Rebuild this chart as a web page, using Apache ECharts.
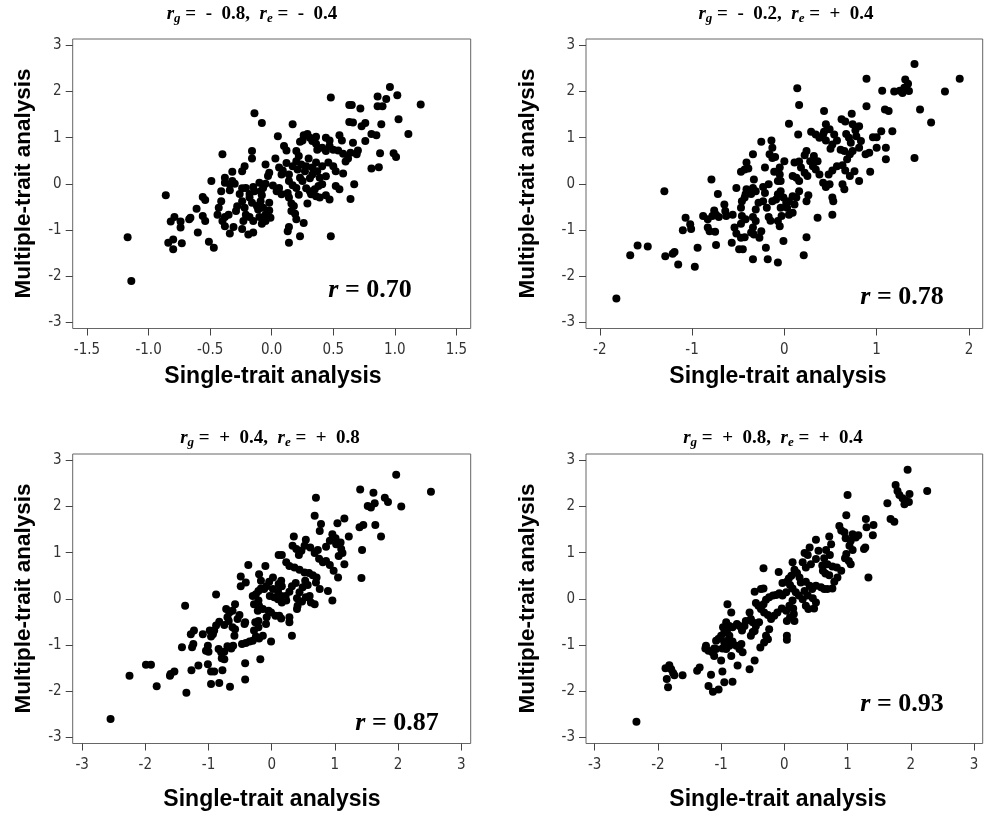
<!DOCTYPE html>
<html>
<head>
<meta charset="utf-8">
<script src="https://cdn.jsdelivr.net/npm/echarts@6/dist/echarts.min.js"></script>
<style>
html,body{margin:0;padding:0;background:#fff;}
#chart{width:985px;height:813px;}
</style>
</head>
<body>
<div id="chart"></div>
<script>
// ---- data (Single-trait analysis, Multiple-trait analysis) ----
const panel1Points = [[0.96,2.10],[0.48,1.87],[0.86,1.89],[1.02,1.92],[0.93,1.84],[1.21,1.72],[0.63,1.71],[0.65,1.71],[0.72,1.63],[0.86,1.68],[0.90,1.68],[-0.14,1.53],[-0.08,1.32],[0.17,1.29],[0.63,1.34],[0.66,1.33],[0.73,1.25],[0.76,1.32],[0.89,1.29],[1.03,1.40],[0.81,1.08],[0.85,1.05],[1.11,1.08],[0.05,1.03],[0.26,1.05],[0.29,1.08],[0.31,1.00],[0.23,0.91],[0.25,0.94],[0.44,1.00],[0.47,0.94],[0.55,1.05],[0.57,0.94],[0.66,0.89],[0.76,0.93],[0.10,0.82],[0.12,0.72],[0.20,0.71],[0.33,0.93],[0.36,0.87],[0.37,0.74],[0.41,0.78],[0.44,0.71],[0.47,0.82],[0.50,0.74],[0.54,0.72],[0.58,0.65],[0.62,0.55],[0.70,0.72],[0.64,0.67],[0.69,0.64],[0.88,0.66],[0.99,0.66],[1.01,0.58],[0.81,0.33],[0.87,0.36],[-0.16,0.71],[-0.16,0.55],[-0.40,0.64],[-0.22,0.38],[-0.24,0.27],[-0.05,0.42],[-0.03,0.17],[-0.02,0.24],[0.03,0.55],[0.09,0.29],[0.08,0.20],[0.14,0.20],[0.17,0.38],[0.20,0.49],[0.21,0.31],[0.24,0.42],[0.27,0.27],[0.28,0.38],[0.33,0.35],[0.36,0.46],[0.37,0.27],[0.41,0.38],[0.33,0.20],[0.39,0.13],[0.46,0.46],[0.50,0.38],[0.52,0.27],[0.58,0.22],[0.14,0.06],[0.17,-0.03],[0.20,-0.09],[0.23,0.13],[0.25,0.06],[0.28,-0.10],[0.31,-0.16],[0.35,-0.12],[0.38,-0.05],[0.41,-0.01],[0.32,-0.23],[0.36,-0.27],[0.39,-0.30],[0.44,-0.25],[0.47,-0.34],[0.52,-0.05],[0.55,-0.12],[0.67,-0.01],[0.64,-0.33],[0.13,-0.20],[0.14,-0.30],[0.16,-0.43],[0.18,-0.48],[0.16,-0.59],[0.19,-0.65],[0.20,-0.77],[0.26,-0.85],[0.14,-0.94],[0.13,-1.03],[0.14,-1.28],[0.23,-1.14],[0.48,-1.14],[0.29,-0.43],[0.06,-0.09],[0.04,-0.16],[0.08,-0.23],[0.01,-0.04],[-0.05,0.00],[-0.07,-0.09],[-0.10,0.02],[-0.09,-0.16],[-0.15,-0.07],[-0.14,-0.16],[-0.21,-0.09],[-0.18,-0.22],[-0.24,-0.10],[-0.32,0.26],[-0.32,0.06],[-0.34,-0.01],[-0.30,0.00],[-0.34,-0.14],[-0.38,0.13],[-0.38,0.02],[-0.41,-0.16],[-0.41,-0.38],[-0.49,0.06],[-0.56,-0.29],[-0.54,-0.35],[-0.43,-0.52],[-0.44,-0.67],[-0.40,-0.81],[-0.38,-0.92],[-0.34,-1.08],[-0.38,-0.72],[-0.35,-0.67],[-0.29,-0.59],[-0.31,-0.94],[-0.24,-0.98],[-0.19,-1.10],[-0.15,-1.06],[-0.24,-0.38],[-0.22,-0.52],[-0.21,-0.67],[-0.23,-0.81],[-0.18,-0.72],[-0.15,-0.81],[-0.28,-0.49],[-0.18,-0.30],[-0.16,-0.41],[-0.12,-0.48],[-0.11,-0.56],[-0.09,-0.38],[-0.07,-0.52],[-0.05,-0.67],[-0.02,-0.41],[-0.02,-0.58],[-0.08,-0.87],[-0.05,-0.81],[-0.01,-0.74],[-0.10,-0.72],[-0.61,-0.54],[-0.56,-0.70],[-0.54,-0.81],[-0.66,-0.74],[-0.67,-0.77],[-0.79,-0.72],[-0.82,-0.82],[-0.74,-0.82],[-0.74,-0.95],[-0.60,-1.06],[-0.86,-0.25],[-0.51,-1.26],[-0.47,-1.39],[-0.84,-1.28],[-0.80,-1.21],[-0.80,-1.42],[-0.73,-1.29],[-1.17,-1.16],[-1.14,-2.11],[0.22,0.60],[0.30,0.55],[0.12,0.45],[0.06,0.35],[0.31,0.12],[0.44,0.16],[0.60,0.48],[0.36,1.02],[-0.08,-0.25],[-0.26,-0.22],[0.22,-0.24]];

const panel2Points = [[1.41,2.60],[1.90,2.28],[0.89,2.28],[1.74,2.00],[1.06,2.02],[1.19,2.00],[1.25,2.02],[1.28,1.97],[1.32,2.05],[1.35,2.01],[1.30,2.08],[1.34,2.17],[1.31,2.26],[0.14,2.07],[0.16,1.71],[0.89,1.68],[0.43,1.58],[0.73,1.52],[1.09,1.61],[1.13,1.58],[1.47,1.61],[1.59,1.33],[0.05,1.30],[0.62,1.40],[0.66,1.35],[0.74,1.29],[0.77,1.16],[0.81,1.25],[0.45,1.29],[0.49,1.18],[0.43,1.13],[0.29,1.13],[0.34,1.07],[0.42,1.07],[0.15,1.07],[0.38,1.00],[0.45,0.94],[0.54,1.07],[0.57,0.94],[0.52,0.85],[0.50,0.76],[0.67,1.08],[0.70,1.00],[0.72,0.89],[0.78,1.03],[0.83,0.93],[0.96,1.01],[1.00,1.01],[1.05,1.14],[1.17,1.14],[1.00,0.78],[1.10,0.78],[1.10,0.53],[1.41,0.56],[0.88,0.64],[0.92,0.67],[0.61,0.74],[0.65,0.71],[0.71,0.64],[0.68,0.53],[0.74,0.71],[0.81,0.78],[0.93,0.26],[0.81,0.06],[0.76,0.27],[0.71,0.17],[0.66,0.29],[0.63,0.40],[0.57,0.38],[0.52,0.29],[0.48,0.20],[0.63,-0.01],[0.65,-0.12],[0.52,-0.30],[0.53,-0.38],[0.52,-0.67],[0.36,-0.74],[0.24,-0.38],[0.26,-0.25],[0.24,-1.16],[0.21,-1.55],[0.42,0.02],[0.45,-0.07],[0.49,-0.01],[0.38,0.20],[0.34,0.31],[0.31,0.38],[0.36,0.49],[0.32,0.60],[0.28,0.49],[0.24,0.71],[0.22,0.62],[0.16,0.48],[0.18,0.35],[0.22,0.24],[0.25,0.17],[0.13,0.13],[0.16,0.06],[0.09,0.17],[0.11,0.46],[0.16,-0.16],[0.13,-0.30],[0.09,-0.27],[0.11,-0.45],[0.05,-0.38],[0.03,-0.52],[0.05,-0.67],[0.09,-0.63],[-0.05,0.20],[-0.04,0.06],[-0.07,0.06],[-0.11,0.26],[-0.05,0.35],[0.00,0.49],[-0.16,0.64],[-0.13,0.56],[-0.10,0.58],[-0.14,0.94],[-0.13,0.78],[-0.25,0.91],[-0.34,0.64],[-0.21,0.35],[-0.23,-0.07],[-0.17,-0.01],[-0.33,0.09],[-0.34,-0.09],[-0.31,-0.16],[-0.36,-0.22],[-0.41,0.46],[-0.39,0.33],[-0.47,0.26],[-0.43,0.31],[-0.41,-0.12],[-0.42,-0.23],[-0.43,-0.30],[-0.46,-0.38],[-0.52,-0.09],[-0.31,-0.56],[-0.28,-0.41],[-0.23,-0.38],[-0.13,-0.38],[-0.09,-0.34],[-0.07,-0.23],[-0.04,-0.16],[-0.01,-0.30],[0.02,-0.41],[-0.04,-0.52],[-0.03,-0.70],[-0.07,-0.81],[-0.05,-0.92],[-0.01,-1.24],[-0.07,-1.71],[-0.18,-1.64],[-0.34,-1.64],[-0.20,-1.39],[-0.27,-1.17],[-0.25,-1.03],[-0.17,-0.72],[-0.15,-0.80],[-0.19,-0.52],[-0.21,-0.20],[-0.34,-0.72],[-0.31,-0.81],[-0.34,-0.95],[-0.36,-1.06],[-0.33,-1.10],[-0.47,-0.52],[-0.46,-0.70],[-0.42,-0.77],[-0.47,-0.87],[-0.54,-0.95],[-0.52,-1.08],[-0.47,-1.17],[-0.43,-1.16],[-0.57,-1.28],[-0.49,-1.42],[-0.45,-1.42],[-0.65,-0.45],[-0.64,-0.59],[-0.63,-0.70],[-0.56,-0.67],[-0.72,-0.22],[-0.79,0.09],[-0.88,-0.70],[-0.83,-0.77],[-0.78,-0.70],[-0.76,-0.58],[-0.74,-0.67],[-0.71,-0.72],[-0.83,-0.95],[-0.81,-1.03],[-0.75,-1.04],[-0.74,-1.33],[-0.94,-1.39],[-0.97,-1.80],[-1.10,-1.01],[-1.02,-0.88],[-1.01,-0.98],[-1.07,-0.74],[-1.15,-1.75],[-1.19,-1.48],[-1.21,-1.52],[-1.29,-1.57],[-1.48,-1.36],[-1.59,-1.34],[-1.67,-1.55],[-1.30,-0.16],[-1.82,-2.49]];

const panel3Points = [[1.97,2.69],[2.52,2.32],[1.40,2.37],[1.61,2.30],[1.79,2.19],[1.84,2.10],[1.52,2.01],[1.57,1.98],[1.63,2.07],[2.05,2.00],[0.70,2.19],[0.68,1.80],[0.78,1.62],[0.76,1.47],[1.15,1.74],[1.04,1.64],[1.39,1.55],[1.45,1.60],[1.64,1.60],[1.73,1.35],[1.43,1.06],[1.22,1.35],[0.96,1.40],[1.01,1.31],[0.92,1.26],[1.02,1.18],[1.09,1.22],[1.10,1.08],[1.12,0.99],[1.06,0.93],[1.15,0.75],[1.05,0.46],[0.96,-0.04],[0.89,0.17],[0.76,0.21],[1.42,0.45],[0.86,1.13],[0.73,1.06],[0.68,0.99],[0.75,0.87],[0.81,0.79],[0.86,0.82],[0.92,0.73],[0.98,0.61],[0.54,1.28],[0.52,1.15],[0.61,1.11],[0.47,1.04],[0.43,0.95],[0.35,1.35],[0.33,1.15],[0.39,1.08],[0.16,0.95],[0.11,0.95],[0.23,0.79],[0.28,0.71],[0.36,0.68],[0.44,0.63],[0.52,0.57],[0.59,0.56],[0.65,0.51],[0.71,0.46],[0.70,0.35],[0.53,0.39],[0.57,0.30],[0.49,0.25],[0.44,0.14],[0.38,0.34],[0.32,0.27],[0.28,0.15],[0.40,0.01],[0.48,-0.06],[0.54,0.03],[0.62,-0.08],[0.68,-0.12],[0.60,0.06],[0.41,-0.15],[0.40,-0.22],[0.28,-0.40],[0.28,-0.51],[0.32,-0.80],[0.15,0.39],[0.16,0.27],[0.11,0.32],[0.10,0.17],[0.15,0.06],[0.10,-0.01],[0.16,-0.08],[0.22,0.06],[0.23,-0.04],[0.02,0.46],[-0.04,0.37],[-0.08,0.27],[-0.12,0.21],[0.02,0.21],[-0.03,0.06],[0.04,0.03],[-0.10,0.71],[-0.37,0.73],[-0.20,0.53],[-0.17,0.39],[-0.49,0.48],[-0.49,0.27],[-0.41,0.35],[-0.30,0.06],[-0.25,0.10],[-0.21,0.17],[-0.17,0.22],[-0.28,-0.12],[-0.21,-0.04],[-0.20,-0.15],[-0.22,-0.26],[-0.14,-0.22],[-0.05,-0.26],[-0.01,-0.30],[0.06,-0.37],[0.12,-0.37],[0.15,-0.43],[-0.08,-0.40],[-0.09,-0.55],[-0.21,-0.48],[-0.21,-0.62],[-0.26,-0.51],[-0.28,-0.69],[-0.14,-0.80],[-0.20,-0.86],[-0.25,-0.82],[-0.30,-0.91],[-0.35,-0.93],[-0.41,-0.96],[-0.47,-0.98],[-0.01,-0.93],[-0.42,-0.51],[-0.43,-0.55],[-0.51,-0.35],[-0.54,-0.44],[-0.58,-0.12],[-0.62,-0.26],[-0.67,-0.30],[-0.72,-0.22],[-0.70,-0.40],[-0.58,-0.66],[-0.62,-0.62],[-0.68,-0.48],[-0.75,-0.57],[-0.88,0.09],[-0.83,-0.50],[-0.88,-0.58],[-0.59,-0.80],[-0.61,-1.02],[-0.64,-1.08],[-0.70,-1.03],[-0.75,-1.15],[-0.80,-1.16],[-0.84,-1.09],[-0.79,-1.29],[-0.75,-1.31],[-0.91,-0.69],[-0.93,-0.77],[-0.98,-0.69],[-0.96,-0.82],[-1.01,-1.02],[-1.04,-1.13],[-1.00,-1.15],[-1.09,-0.77],[-1.23,-0.69],[-1.28,-0.77],[-1.24,-0.98],[-1.26,-1.05],[-1.42,-1.05],[-1.37,-0.15],[-1.16,-1.45],[-1.01,-1.42],[-0.96,-1.58],[-0.91,-1.58],[-0.78,-1.55],[-1.27,-1.55],[-0.42,-1.40],[-0.42,-1.75],[-0.18,-1.31],[-0.96,-1.85],[-0.83,-1.83],[-0.66,-1.91],[-1.35,-2.04],[-1.54,-1.58],[-1.60,-1.63],[-1.61,-1.67],[-1.82,-1.90],[-1.99,-1.43],[-1.91,-1.43],[-2.25,-1.67],[-2.55,-2.61]];

const panel4Points = [[1.95,2.80],[2.26,2.34],[1.76,2.47],[1.79,2.34],[1.82,2.25],[1.87,2.18],[1.92,2.13],[1.97,2.10],[1.90,2.05],[1.98,2.27],[1.63,2.07],[1.68,1.73],[1.74,1.67],[1.00,2.25],[0.98,1.81],[1.29,1.73],[1.30,1.55],[1.41,1.60],[1.40,1.38],[1.33,0.46],[1.26,1.08],[1.28,1.11],[0.87,1.58],[0.90,1.48],[0.95,1.44],[0.97,1.31],[1.05,1.26],[1.03,1.15],[1.08,1.06],[0.98,0.97],[0.96,0.88],[1.05,0.75],[1.02,0.82],[1.08,1.40],[1.13,1.33],[1.17,1.38],[0.71,1.35],[0.74,1.18],[0.66,1.06],[0.72,0.95],[0.63,0.88],[0.68,0.75],[0.76,0.70],[0.83,0.68],[0.90,0.61],[0.84,0.46],[0.79,0.37],[0.76,0.22],[0.71,0.51],[0.61,0.61],[0.65,0.55],[0.60,0.72],[0.50,1.28],[0.40,1.11],[0.37,0.95],[0.32,0.99],[0.29,0.79],[0.34,0.68],[0.42,0.75],[0.50,0.86],[0.54,1.04],[0.50,0.28],[0.58,0.25],[0.63,0.21],[0.68,0.21],[0.13,0.79],[0.07,0.44],[0.11,0.50],[0.16,0.63],[0.20,0.56],[0.24,0.46],[0.26,0.35],[0.34,0.37],[0.40,0.28],[0.44,0.21],[0.32,0.17],[0.37,0.07],[0.45,0.01],[0.50,-0.08],[0.47,-0.21],[0.38,-0.22],[0.34,-0.15],[0.29,-0.01],[0.23,0.07],[0.18,0.14],[0.13,0.22],[0.09,0.30],[0.04,0.37],[-0.03,0.34],[0.03,0.14],[-0.03,0.07],[-0.08,0.12],[-0.13,0.08],[-0.18,0.07],[-0.24,0.03],[-0.29,-0.02],[-0.33,-0.12],[-0.37,0.21],[-0.33,0.22],[-0.47,0.15],[-0.09,0.58],[-0.33,0.66],[0.13,-0.04],[0.08,-0.15],[0.03,-0.26],[-0.04,-0.21],[-0.11,-0.30],[-0.16,-0.37],[-0.21,-0.44],[-0.26,-0.35],[-0.32,-0.30],[-0.37,-0.22],[-0.41,-0.15],[-0.45,-0.09],[0.14,-0.21],[0.15,-0.33],[0.16,-0.48],[0.09,-0.40],[0.04,-0.48],[0.04,-0.80],[0.04,-0.89],[-0.24,-0.66],[-0.29,-0.80],[-0.26,-0.88],[-0.32,-0.95],[-0.38,-1.06],[-0.40,-0.51],[-0.45,-0.59],[-0.50,-0.51],[-0.50,-0.72],[-0.53,-0.80],[-0.47,-0.70],[-0.55,-0.30],[-0.53,-0.44],[-0.61,-0.48],[-0.63,-0.59],[-0.67,-0.69],[-0.71,-0.59],[-0.75,-0.55],[-0.82,-0.62],[-0.87,-0.59],[-0.90,-0.66],[-0.95,-0.73],[-1.00,-0.80],[-1.04,-0.87],[-1.08,-0.91],[-0.90,-0.12],[-0.84,-0.30],[-0.92,-0.51],[-0.97,-0.62],[-0.93,-0.72],[-0.87,-0.80],[-0.90,-0.91],[-0.95,-0.95],[-0.98,-1.08],[-0.92,-1.09],[-0.87,-1.02],[-0.82,-0.93],[-0.76,-1.02],[-0.71,-1.09],[-0.68,-0.98],[-0.66,-1.16],[-0.74,-1.45],[-0.55,-1.53],[-0.47,-1.34],[-0.84,-1.24],[-1.08,-1.09],[-1.11,-1.24],[-1.00,-1.34],[-0.98,-1.58],[-0.95,-1.81],[-0.82,-1.80],[-1.13,-2.02],[-1.04,-1.97],[-1.20,-1.89],[-1.16,-1.65],[-1.24,-1.02],[-1.20,-1.13],[-1.14,-1.16],[-1.11,-1.08],[-1.25,-1.08],[-1.38,-1.56],[-1.34,-1.49],[-1.61,-1.66],[-1.76,-1.61],[-1.74,-1.66],[-1.79,-1.53],[-1.82,-1.44],[-1.86,-1.74],[-1.84,-1.92],[-1.88,-1.51],[-2.34,-2.67]];

const xTicks1 = [-1.5, -1.0, -0.5, 0, 0.5, 1.0, 1.5];
const xTicks2 = [-2, -1, 0, 1, 2];
const xTicks34 = [-3, -2, -1, 0, 1, 2, 3];
const yTicks = [-3, -2, -1, 0, 1, 2, 3];

const panelTitles = [['g', ' =  -  0.8,  ', 'e', ' =  -  0.4'],
                     ['g', ' =  -  0.2,  ', 'e', ' =  +  0.4'],
                     ['g', ' =  +  0.4,  ', 'e', ' =  +  0.8'],
                     ['g', ' =  +  0.8,  ', 'e', ' =  +  0.4']];
const corrLabels = ['0.70', '0.78', '0.87', '0.93'];
const xAxisTitle = 'Single-trait analysis';
const yAxisTitle = 'Multiple-trait analysis';

// ---- layout ----
const grids = [
  {left: 72.7, top: 39, width: 398, height: 289.5},
  {left: 586, top: 39, width: 396.7, height: 289.5},
  {left: 72.7, top: 454, width: 398, height: 289.5},
  {left: 586, top: 454, width: 396.7, height: 289.5}
];
const xRanges = [[-1.616, 1.616], [-2.149, 2.149], [-3.149, 3.149], [-3.138, 3.138]];
const xTickSets = [xTicks1, xTicks2, xTicks34, xTicks34];
const allPoints = [panel1Points, panel2Points, panel3Points, panel4Points];

const tickFont = '"Liberation Sans Narrow", "DejaVu Sans Condensed", "Liberation Sans", Arial, sans-serif';
const serif = '"Liberation Serif", "Times New Roman", serif';
const sans = '"Liberation Sans", Arial, Helvetica, sans-serif';
const frameColor = '#666';

const chart = echarts.init(document.getElementById('chart'), null, {renderer: 'canvas'});

const option = {
  backgroundColor: '#fff',
  animation: false,
  grid: grids.map(g => Object.assign({show: true, borderColor: frameColor, borderWidth: 1, backgroundColor: 'transparent', containLabel: false}, g)),
  xAxis: grids.map((g, i) => ({
    type: 'value', gridIndex: i, min: xRanges[i][0], max: xRanges[i][1], position: 'bottom',
    splitLine: {show: false},
    axisLine: {show: false, onZero: false},
    axisTick: {show: true, inside: false, length: 7, lineStyle: {color: '#444'}, customValues: xTickSets[i]},
    axisLabel: {show: true, margin: 14, color: '#333', fontSize: 15, fontFamily: tickFont,
      customValues: xTickSets[i],
      formatter: v => i === 0 ? v.toFixed(1) : String(v)}
  })),
  yAxis: grids.map((g, i) => ({
    type: 'value', gridIndex: i, min: -3.14, max: 3.14, position: 'left',
    splitLine: {show: false},
    axisLine: {show: false, onZero: false},
    axisTick: {show: true, inside: false, length: 7, lineStyle: {color: '#444'}, customValues: yTicks},
    axisLabel: {show: true, margin: 11, color: '#333', fontSize: 15, fontFamily: tickFont,
      customValues: yTicks, formatter: v => String(v)}
  })),
  series: allPoints.map((pts, i) => ({
    type: 'scatter', xAxisIndex: i, yAxisIndex: i, data: pts,
    symbol: 'circle', symbolSize: 8, silent: true,
    itemStyle: {color: '#000', opacity: 1}
  })),
  graphic: []
};

const titlePos = [[252, 15], [786, 15], [270, 439], [773, 439]];
const xNamePos = [[273, 377], [778, 377], [272, 800], [778, 800]];
const yNamePos = [[24, 183.5], [528, 183.5], [24, 598.5], [528, 598.5]];
const corrPos = [[370, 290], [902, 297], [397, 723], [902, 704]];

const richTitle = {
  i: {fontFamily: serif, fontWeight: 'bold', fontStyle: 'italic', fontSize: 19, verticalAlign: 'bottom', padding: [0, 0, 2, 0], fill: '#000'},
  s: {fontFamily: serif, fontWeight: 'bold', fontStyle: 'italic', fontSize: 13, verticalAlign: 'bottom', fill: '#000'},
  n: {fontFamily: serif, fontWeight: 'bold', fontSize: 19, verticalAlign: 'bottom', padding: [0, 0, 2, 0], fill: '#000'}
};
const richCorr = {
  i: {fontFamily: serif, fontWeight: 'bold', fontStyle: 'italic', fontSize: 26, fill: '#000'},
  n: {fontFamily: serif, fontWeight: 'bold', fontSize: 26, fill: '#000'}
};

for (let i = 0; i < 4; i++) {
  const t = panelTitles[i];
  option.graphic.push({
    type: 'text', x: titlePos[i][0], y: titlePos[i][1], silent: true,
    style: {text: '{i|r}{s|' + t[0] + '}{n|' + t[1] + '}{i|r}{s|' + t[2] + '}{n|' + t[3] + '}',
      rich: richTitle, align: 'center', verticalAlign: 'middle', textAlign: 'center', textVerticalAlign: 'middle'}
  });
  option.graphic.push({
    type: 'text', x: xNamePos[i][0], y: xNamePos[i][1], silent: true,
    style: {text: xAxisTitle, font: 'bold 23px ' + sans, fill: '#000',
      align: 'center', verticalAlign: 'middle', textAlign: 'center', textVerticalAlign: 'middle'}
  });
  option.graphic.push({
    type: 'text', x: yNamePos[i][0], y: yNamePos[i][1], rotation: Math.PI / 2, silent: true,
    style: {text: yAxisTitle, font: 'bold 22.5px ' + sans, fill: '#000',
      align: 'center', verticalAlign: 'middle', textAlign: 'center', textVerticalAlign: 'middle'}
  });
  option.graphic.push({
    type: 'text', x: corrPos[i][0], y: corrPos[i][1], silent: true,
    style: {text: '{i|r}{n| = ' + corrLabels[i] + '}', rich: richCorr,
      align: 'center', verticalAlign: 'middle', textAlign: 'center', textVerticalAlign: 'middle'}
  });
}

chart.setOption(option);
</script>
</body>
</html>
